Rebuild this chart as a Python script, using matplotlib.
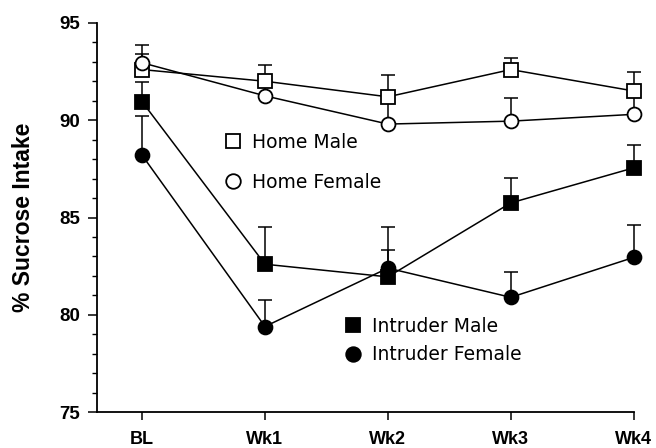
import matplotlib
matplotlib.use('Agg')
import matplotlib.pyplot as plt
import numpy as np

plt.rcParams['font.family'] = ['Liberation Sans', 'DejaVu Sans']

# Datos
categories = ['BL', 'Wk1', 'Wk2', 'Wk3', 'Wk4']

home_male = [92.6, 92.0, 91.2, 92.6, 91.5]
home_male_err = [0.8, 0.85, 1.1, 0.6, 1.0]

home_female = [92.95, 91.25, 89.8, 89.95, 90.3]
home_female_err = [0.9, 0.6, 1.4, 1.2, 1.0]

intruder_male = [90.95, 82.6, 81.95, 85.75, 87.55]
intruder_male_err = [1.0, 1.9, 2.55, 1.3, 1.15]

intruder_female = [88.2, 79.4, 82.4, 80.9, 82.95]
intruder_female_err = [2.0, 1.35, 0.95, 1.3, 1.65]

x = np.arange(len(categories))

fig = plt.figure(figsize=(6.56, 4.48), dpi=100)
ax = fig.add_axes([0.148, 0.080, 0.818, 0.869])

series = [
    (home_male, home_male_err, 's', 'white', 'Home Male'),
    (home_female, home_female_err, 'o', 'white', 'Home Female'),
    (intruder_male, intruder_male_err, 's', 'black', 'Intruder Male'),
    (intruder_female, intruder_female_err, 'o', 'black', 'Intruder Female'),
]

handles = []
for vals, errs, mk, fc, lab in series:
    # solo barra de error hacia arriba
    yerr = [np.zeros(len(errs)), errs]
    ax.errorbar(x, vals, yerr=yerr, fmt='none', ecolor='black', elinewidth=1.1,
                capsize=4.7, capthick=1.1, zorder=2, clip_on=False)
    h, = ax.plot(x, vals, color='black', lw=1.1, marker=mk, markersize=10,
                 markerfacecolor=fc, markeredgecolor='black', markeredgewidth=1.3,
                 zorder=3, clip_on=False, label=lab)
    handles.append(h)

ax.set_xlim(-0.366, 4)
ax.set_ylim(75, 95)
ax.set_xticks(x)
ax.set_xticklabels(categories, fontsize=13, fontweight='bold')
ax.set_yticks([75, 80, 85, 90, 95])
ax.set_yticks(np.arange(75, 96, 1), minor=True)
ax.tick_params(axis='y', labelsize=13.5, length=6.5, width=1.1, direction='out', pad=5.5)
ax.tick_params(axis='y', which='minor', length=3.6, width=1.0)
ax.tick_params(axis='x', length=5.8, width=1.1, direction='out', pad=8)
for lbl in ax.get_yticklabels():
    lbl.set_fontweight('bold')
ax.set_ylabel('% Sucrose Intake', fontsize=16.5, fontweight='bold', labelpad=18)

ax.spines['top'].set_visible(False)
ax.spines['right'].set_visible(False)
ax.spines['left'].set_linewidth(1.3)
ax.spines['bottom'].set_linewidth(1.3)

# Leyendas separadas dentro del grafico
leg_style = dict(frameon=False, loc='upper left', borderpad=0, borderaxespad=0,
                 handlelength=1.0, handletextpad=0.5,
                 prop={'family': 'DejaVu Sans', 'size': 13.5},
                 bbox_transform=fig.transFigure)
leg1 = ax.legend(handles[:2], ['Home Male', 'Home Female'],
                 bbox_to_anchor=(0.341, 0.703), labelspacing=1.1, **leg_style)
for h in leg1.legend_handles:
    h.set_linestyle('none')
    h.set_markersize(10.5)
ax.add_artist(leg1)
leg2 = ax.legend(handles[2:], ['Intruder Male', 'Intruder Female'],
                 bbox_to_anchor=(0.524, 0.293), labelspacing=0.5, **leg_style)
for h in leg2.legend_handles:
    h.set_linestyle('none')
    h.set_markersize(10.5)

fig.savefig('out.png', dpi=100)
